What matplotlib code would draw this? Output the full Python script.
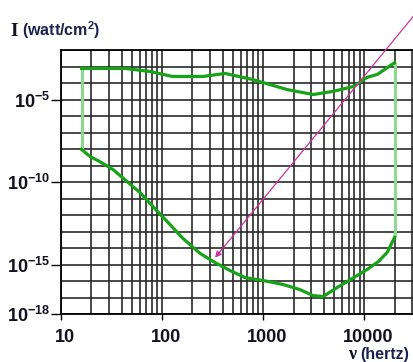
import numpy as np
import matplotlib
matplotlib.use("Agg")
import matplotlib.pyplot as plt
from matplotlib.ticker import FixedLocator, FixedFormatter, LogLocator, NullFormatter
import matplotlib.transforms as mtransforms

plt.rcParams['font.family'] = ['Liberation Sans', 'DejaVu Sans']
plt.rcParams['mathtext.fontset'] = 'custom'
plt.rcParams['mathtext.rm'] = 'Liberation Sans'
plt.rcParams['mathtext.bf'] = 'Liberation Sans:bold'

# threshold of pain (upper curve), hertz / watt per cm2
pain_freq = [16, 24, 43, 76, 126, 255, 421, 796, 1730, 3130, 4930, 7780, 10700, 13500, 20000]
pain_int = [7.6e-4, 7.6e-4, 7.6e-4, 5.0e-4, 2.5e-4, 2.5e-4, 3.8e-4, 1.6e-4, 4.0e-5, 2.0e-5,
            3.1e-5, 6.1e-5, 2.2e-4, 3.3e-4, 1.7e-3]

# threshold of hearing (lower curve)
hear_freq = [16, 19.4, 24.3, 32.7, 45, 60.5, 76, 112, 161, 238, 335, 471, 664, 1000, 1580,
             2320, 3130, 3930, 5400, 7600, 10700, 13800, 16900, 20000]
hear_int = [9.3e-9, 3.5e-9, 1.7e-9, 5.7e-10, 1.07e-10, 2.3e-11, 5.0e-12, 4.1e-13, 3.8e-14,
            4.7e-15, 1.3e-15, 4.3e-16, 1.6e-16, 1.07e-16, 6.1e-17, 3.0e-17, 1.3e-17, 1.15e-17,
            4.0e-17, 1.4e-16, 5.0e-16, 1.5e-15, 5.4e-15, 4.4e-14]

xticks = [10, 100, 1000, 10000]
xticklabels = ['10', '100', '1000', '10000']
yticks = [1e-18, 1e-15, 1e-10, 1e-5]
yticklabels = [r'$\mathbf{10^{-18}}$', r'$\mathbf{10^{-15}}$', r'$\mathbf{10^{-10}}$', r'$\mathbf{10^{-5}}$']

arrow_from = (42000, 11.5)
arrow_to = (335, 2.6e-15)

dark_green = '#17a317'
light_green = '#8fd88f'
txt = '#111122'

fig = plt.figure(figsize=(4.13, 3.62), dpi=100)
ax = fig.add_axes([61 / 413, 48 / 362, 364 / 413, 264 / 362])
ax.set_xscale('log')
ax.set_yscale('log')
ax.set_xlim(10, 40000)
ax.set_ylim(1e-18, 1e-2)

# edges
ax.plot([pain_freq[0], hear_freq[0]], [pain_int[0], hear_int[0]], color=light_green, lw=2.3,
        solid_capstyle='butt', zorder=3)
ax.plot([pain_freq[-1], hear_freq[-1]], [pain_int[-1], hear_int[-1]], color=light_green, lw=2.3,
        solid_capstyle='butt', zorder=3)
ax.plot(pain_freq, pain_int, color=dark_green, lw=2.3, zorder=4)
ax.plot(hear_freq, hear_int, color=dark_green, lw=2.3, zorder=4)

ax.annotate('', xy=arrow_to, xytext=arrow_from, annotation_clip=False,
            arrowprops=dict(arrowstyle='-|>', color='#cc3399', lw=0.9, mutation_scale=9,
                            shrinkA=0, shrinkB=0), zorder=5)

# grid
ax.xaxis.set_major_locator(FixedLocator(xticks))
ax.xaxis.set_major_formatter(FixedFormatter(xticklabels))
ax.xaxis.set_minor_locator(LogLocator(base=10, subs=np.arange(2, 10), numticks=20))
ax.xaxis.set_minor_formatter(NullFormatter())
ax.yaxis.set_major_locator(FixedLocator(yticks))
ax.yaxis.set_major_formatter(FixedFormatter(yticklabels))
ax.yaxis.set_minor_locator(FixedLocator([10.0 ** k for k in range(-18, -1)]))
ax.yaxis.set_minor_formatter(NullFormatter())
ax.grid(True, which='both', color='#2a2a2a', lw=1.2)

ax.tick_params(axis='x', which='major', length=4, width=1, direction='out', pad=7,
               labelsize=13, labelcolor=txt)
ax.tick_params(axis='y', which='major', length=7, width=1, direction='out', pad=1,
               labelsize=13, labelcolor=txt)
ax.tick_params(which='minor', length=0)
for lab in ax.get_xticklabels():
    lab.set_fontweight('bold')
    lab.set_transform(lab.get_transform() + mtransforms.ScaledTranslation(4 / 100, 0, fig.dpi_scale_trans))

for s in ax.spines.values():
    s.set_color('black')
    s.set_linewidth(1.3)

fig.text(10 / 413, 1 - 36 / 362, 'I', family='Liberation Serif', fontweight='bold',
         fontsize=14, color=txt)
fig.text(22 / 413, 1 - 36 / 362, r'(watt/cm$^\mathbf{2}$)', fontweight='bold',
         fontsize=11.5, color='#1a2250')
fig.text(348 / 413, 1 - 359 / 362, 'ν', family='Liberation Serif', fontweight='bold',
         fontsize=13, color=txt)
fig.text(360 / 413, 1 - 359 / 362, '(hertz)', fontweight='bold',
         fontsize=11.5, color='#1a2250')

fig.savefig('out.png', dpi=100)
